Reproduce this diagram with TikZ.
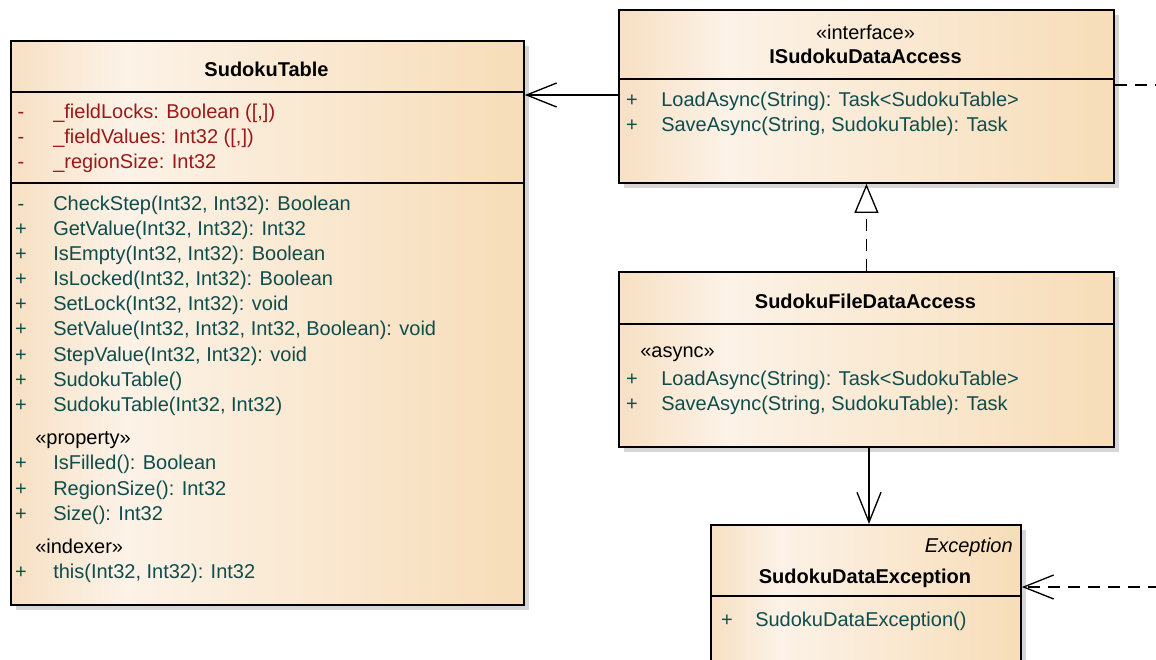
\documentclass[tikz,border=0pt]{standalone}
\usepackage{fontspec}
\setmainfont{Liberation Sans}
\usetikzlibrary{arrows.meta,shadows}
\definecolor{peachL}{HTML}{F7E0C3}
\definecolor{peachM}{HTML}{FCF2E7}
\definecolor{peachR}{HTML}{F7DDB8}
\definecolor{attrred}{HTML}{9A1A1A}
\definecolor{methteal}{HTML}{0F4C4C}
\definecolor{shadowgray}{HTML}{D6D6D6}
\pgfdeclarehorizontalshading{eafill}{100bp}{color(0bp)=(peachL); color(25bp)=(peachL); color(36bp)=(peachM); color(75bp)=(peachR); color(100bp)=(peachR)}
\newcommand\umlrow[7]{\node[#5,anchor=base] (#1v) at (#2,#4) {#6}; \node[#5] (#1) at (#3,#4) {#7};}
\tikzset{
  umlbox/.style={draw=black, line width=1.4pt, shading=eafill, inner sep=0pt, anchor=north west,
    general shadow={fill=shadowgray, draw=none, shadow xshift=3.75pt, shadow yshift=-3.75pt}},
  sepline/.style={draw=black, line width=1.1pt},
  txt/.style={font=\fontsize{15pt}{18pt}\selectfont, inner sep=0pt, anchor=base west},
  attr/.style={txt, text=attrred},
  meth/.style={txt, text=methteal},
  stereo/.style={txt, text=black},
  title/.style={font=\fontsize{15pt}{18pt}\selectfont\bfseries, inner sep=0pt, anchor=base},
  assoc/.style={line width=1pt, -{Straight Barb[length=22.5pt,width=18pt,line width=1pt]}},
  depline/.style={line width=1pt, dash pattern=on 9pt off 6pt},
  realize/.style={line width=1pt, dash pattern=on 9pt off 6pt, -{Triangle[length=21.75pt,width=18pt,fill=white,line width=1pt]}}
}
\begin{document}
\begin{tikzpicture}[x=0.75pt,y=-0.75pt]
\useasboundingbox (0,0) rectangle (1156,660);
% boxes
\node[umlbox, minimum width={513*0.75pt}, minimum height={564*0.75pt}] (table) at (10,40) {};
\node[umlbox, minimum width={495*0.75pt}, minimum height={173*0.75pt}] (iface) at (618,9) {};
\node[umlbox, minimum width={495*0.75pt}, minimum height={175*0.75pt}] (fda) at (618,271) {};
\node[umlbox, minimum width={310*0.75pt}, minimum height={200*0.75pt}] (exc) at (710,524) {};
% compartments
\draw[sepline] (10,92) -- (523,92);
\draw[sepline] (10,183) -- (523,183);
\draw[sepline] (618,79) -- (1113,79);
\draw[sepline] (618,324) -- (1113,324);
\draw[sepline] (710,596) -- (1020,596);
% SudokuTable
\node[title] (ttitle) at (266.5,77) {SudokuTable};
\umlrow{ta1}{21}{53}{118}{attr}{-}{\_fieldLocks: Boolean ([,])}
\umlrow{ta2}{21}{53}{143}{attr}{-}{\_fieldValues: Int32 ([,])}
\umlrow{ta3}{21}{53}{168}{attr}{-}{\_regionSize: Int32}
\umlrow{tm1}{21}{53}{210}{meth}{-}{CheckStep(Int32, Int32): Boolean}
\umlrow{tm2}{21}{53}{235}{meth}{+}{GetValue(Int32, Int32): Int32}
\umlrow{tm3}{21}{53}{260}{meth}{+}{IsEmpty(Int32, Int32): Boolean}
\umlrow{tm4}{21}{53}{285}{meth}{+}{IsLocked(Int32, Int32): Boolean}
\umlrow{tm5}{21}{53}{310}{meth}{+}{SetLock(Int32, Int32): void}
\umlrow{tm6}{21}{53}{335}{meth}{+}{SetValue(Int32, Int32, Int32, Boolean): void}
\umlrow{tm7}{21}{53}{361}{meth}{+}{StepValue(Int32, Int32): void}
\umlrow{tm8}{21}{53}{386}{meth}{+}{SudokuTable()}
\umlrow{tm9}{21}{53}{411}{meth}{+}{SudokuTable(Int32, Int32)}
\node[stereo] (tprop) at (35,444) {«property»};
\umlrow{tp1}{21}{53}{469}{meth}{+}{IsFilled(): Boolean}
\umlrow{tp2}{21}{53}{495}{meth}{+}{RegionSize(): Int32}
\umlrow{tp3}{21}{53}{520}{meth}{+}{Size(): Int32}
\node[stereo] (tidx) at (35,553) {«indexer»};
\umlrow{ti1}{21}{53}{578}{meth}{+}{this(Int32, Int32): Int32}
% ISudokuDataAccess
\node[stereo, anchor=base] (istereo) at (865.5,40) {«interface»};
\node[title] (ititle) at (865.5,64) {ISudokuDataAccess};
\umlrow{im1}{632}{661}{107}{meth}{+}{LoadAsync(String): Task<SudokuTable>}
\umlrow{im2}{632}{661}{132}{meth}{+}{SaveAsync(String, SudokuTable): Task}
% SudokuFileDataAccess
\node[title] (ftitle) at (865.5,308) {SudokuFileDataAccess};
\node[stereo] (fasync) at (640,357) {«async»};
\umlrow{fm1}{632}{661}{385}{meth}{+}{LoadAsync(String): Task<SudokuTable>}
\umlrow{fm2}{632}{661}{410}{meth}{+}{SaveAsync(String, SudokuTable): Task}
% SudokuDataException
\node[stereo, anchor=base east, font=\fontsize{15pt}{18pt}\selectfont\itshape] (estereo) at (1013,552) {Exception};
\node[title] (etitle) at (865,583) {SudokuDataException};
\umlrow{em1}{727}{755}{626}{meth}{+}{SudokuDataException()}
% connectors
\coordinate (p1) at (600,95);
\draw[assoc] (iface.west |- p1) -- (table.east |- p1);
\draw[realize] (fda.north) -- (iface.south);
\coordinate (r1) at (1160,85);
\draw[depline] (iface.east |- r1) -- (r1);
\coordinate (c1) at (869,0);
\draw[assoc] (fda.south -| c1) -- (exc.north -| c1);
\coordinate (r2) at (1160,587);
\draw[depline, -{Straight Barb[length=22.5pt,width=18pt,line width=1pt]}] (r2) -- (exc.east |- r2);
\end{tikzpicture}
\end{document}
